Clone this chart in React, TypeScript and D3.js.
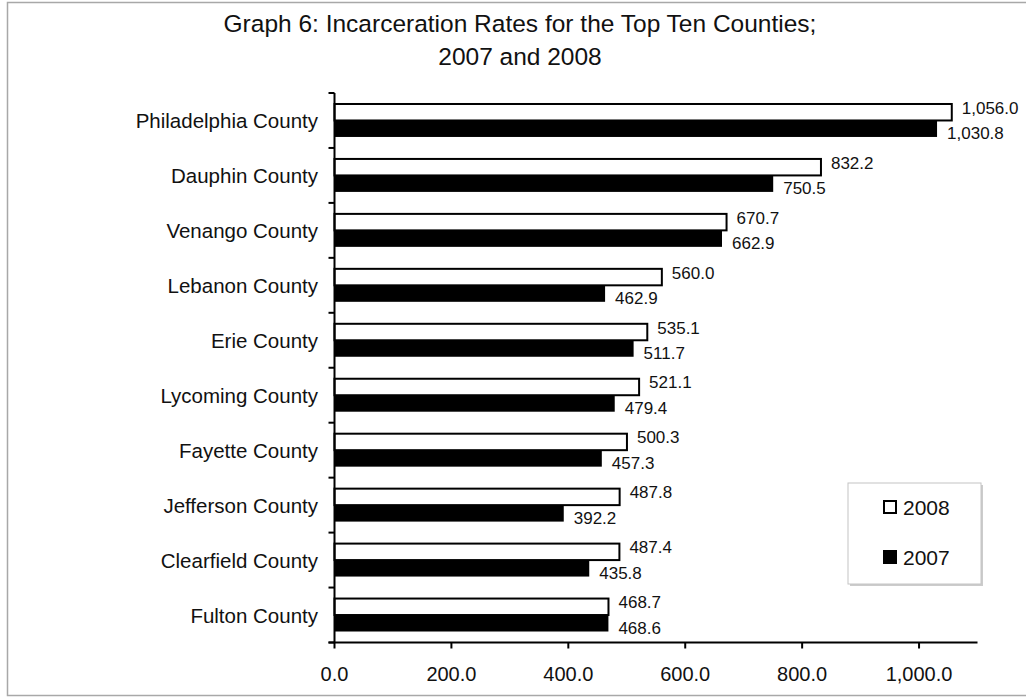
import React, { useEffect, useRef } from "react";
import * as d3 from "d3";

const counties = [
  "Philadelphia County",
  "Dauphin County",
  "Venango County",
  "Lebanon County",
  "Erie County",
  "Lycoming County",
  "Fayette County",
  "Jefferson County",
  "Clearfield County",
  "Fulton County",
];
const rates2008 = [1056.0, 832.2, 670.7, 560.0, 535.1, 521.1, 500.3, 487.8, 487.4, 468.7];
const rates2007 = [1030.8, 750.5, 662.9, 462.9, 511.7, 479.4, 457.3, 392.2, 435.8, 468.6];
const seriesNames = ["2008", "2007"];
const xTicks = [0, 200, 400, 600, 800, 1000];

const FONT = "'Liberation Sans', Arial, sans-serif";

const App = () => {
  const ref = useRef<SVGSVGElement>(null);

  useEffect(() => {
    draw();
  });

  const draw = () => {
    const svg = d3.select(ref.current);
    svg.selectAll("*").remove();

    // outer frame
    svg.append("rect")
      .attr("x", 7.5)
      .attr("y", 2.5)
      .attr("width", 1030)
      .attr("height", 693)
      .attr("fill", "#fff")
      .attr("stroke", "#a8a8a8")
      .attr("stroke-width", 1.5);

    const left = 334.5, right = 977.5, top = 93, bottom = 642.5;

    const x = d3.scaleLinear().domain([0, 1100]).range([left, right]);
    const y = d3.scaleBand().domain(counties).range([top, bottom]);
    const inner = d3.scaleBand().domain(seriesNames)
      .range([0, y.bandwidth()])
      .paddingInner(0)
      .paddingOuter(0.667);

    // title
    const title = svg.append("text")
      .attr("text-anchor", "middle")
      .attr("font-family", FONT)
      .attr("font-size", 24.5)
      .attr("fill", "#111");
    title.append("tspan").attr("x", 520).attr("y", 32)
      .text("Graph 6: Incarceration Rates for the Top Ten Counties;");
    title.append("tspan").attr("x", 520).attr("y", 65).text("2007 and 2008");

    const data = counties.map((c, i) => ({ county: c, v2008: rates2008[i], v2007: rates2007[i] }));

    const g = svg.append("g");

    // 2008 bars
    g.selectAll(".b2008").data(data).enter().append("rect")
      .attr("x", x(0))
      .attr("y", (d) => (y(d.county) as number) + (inner("2008") as number))
      .attr("width", (d) => x(d.v2008) - x(0))
      .attr("height", inner.bandwidth())
      .attr("fill", "#fff")
      .attr("stroke", "#000")
      .attr("stroke-width", 2);

    // 2007 bars
    g.selectAll(".b2007").data(data).enter().append("rect")
      .attr("x", x(0))
      .attr("y", (d) => (y(d.county) as number) + (inner("2007") as number))
      .attr("width", (d) => x(d.v2007) - x(0))
      .attr("height", inner.bandwidth())
      .attr("fill", "#000");

    const fmt = d3.format(",.1f");

    g.selectAll(".l2008").data(data).enter().append("text")
      .attr("x", (d) => x(d.v2008) + 10)
      .attr("y", (d) => (y(d.county) as number) + (inner("2008") as number) + inner.bandwidth() / 2 - 4)
      .attr("dominant-baseline", "central")
      .attr("font-family", FONT)
      .attr("font-size", 17)
      .attr("fill", "#111")
      .text((d) => fmt(d.v2008));

    g.selectAll(".l2007").data(data).enter().append("text")
      .attr("x", (d) => x(d.v2007) + 10)
      .attr("y", (d) => (y(d.county) as number) + (inner("2007") as number) + inner.bandwidth() / 2 + 5)
      .attr("dominant-baseline", "central")
      .attr("font-family", FONT)
      .attr("font-size", 17)
      .attr("fill", "#111")
      .text((d) => fmt(d.v2007));

    // y axis
    const yAxis = svg.append("g");
    yAxis.append("line")
      .attr("x1", left).attr("x2", left)
      .attr("y1", top).attr("y2", bottom)
      .attr("stroke", "#000").attr("stroke-width", 2);
    const bounds = counties.map((c) => y(c) as number).concat([bottom]);
    yAxis.selectAll(".yt").data(bounds).enter().append("line")
      .attr("x1", left - 6).attr("x2", left)
      .attr("y1", (d) => d).attr("y2", (d) => d)
      .attr("stroke", "#000").attr("stroke-width", 2);
    yAxis.selectAll(".yl").data(counties).enter().append("text")
      .attr("x", 318)
      .attr("y", (d) => (y(d) as number) + y.bandwidth() / 2)
      .attr("text-anchor", "end")
      .attr("dominant-baseline", "central")
      .attr("font-family", FONT)
      .attr("font-size", 20.5)
      .attr("fill", "#111")
      .text((d) => d);

    // x axis
    const xAxis = svg.append("g");
    xAxis.append("line")
      .attr("x1", left - 6).attr("x2", right)
      .attr("y1", bottom).attr("y2", bottom)
      .attr("stroke", "#000").attr("stroke-width", 2);
    xAxis.selectAll(".xt").data(xTicks).enter().append("line")
      .attr("x1", (d) => x(d)).attr("x2", (d) => x(d))
      .attr("y1", bottom).attr("y2", bottom + 6)
      .attr("stroke", "#000").attr("stroke-width", 2);
    xAxis.selectAll(".xl").data(xTicks).enter().append("text")
      .attr("x", (d) => x(d))
      .attr("y", bottom + 31)
      .attr("text-anchor", "middle")
      .attr("dominant-baseline", "central")
      .attr("font-family", FONT)
      .attr("font-size", 20)
      .attr("fill", "#111")
      .text((d) => fmt(d));

    // legend
    const lg = svg.append("g");
    lg.append("rect")
      .attr("x", 850).attr("y", 485)
      .attr("width", 133).attr("height", 101)
      .attr("fill", "#ccc");
    lg.append("rect")
      .attr("x", 848).attr("y", 483)
      .attr("width", 133).attr("height", 101)
      .attr("fill", "#fff")
      .attr("stroke", "#c4c4c4").attr("stroke-width", 1);
    const ly = d3.scalePoint().domain(seriesNames).range([507, 557]);
    seriesNames.forEach((s) => {
      const cy = ly(s) as number;
      lg.append("rect")
        .attr("x", s === "2008" ? 884 : 883)
        .attr("y", s === "2008" ? cy - 6 : cy - 7)
        .attr("width", s === "2008" ? 12 : 14)
        .attr("height", s === "2008" ? 12 : 14)
        .attr("fill", s === "2008" ? "#fff" : "#000")
        .attr("stroke", s === "2008" ? "#000" : "none")
        .attr("stroke-width", 2);
      lg.append("text")
        .attr("x", 903).attr("y", cy)
        .attr("dominant-baseline", "central")
        .attr("font-family", FONT)
        .attr("font-size", 21)
        .attr("fill", "#111")
        .text(s);
    });
  };

  return (
    <svg
      ref={ref}
      width={1026}
      height={697}
      style={{ position: "absolute", left: 0, top: 0, background: "#fff" }}
    />
  );
};

export default App;
